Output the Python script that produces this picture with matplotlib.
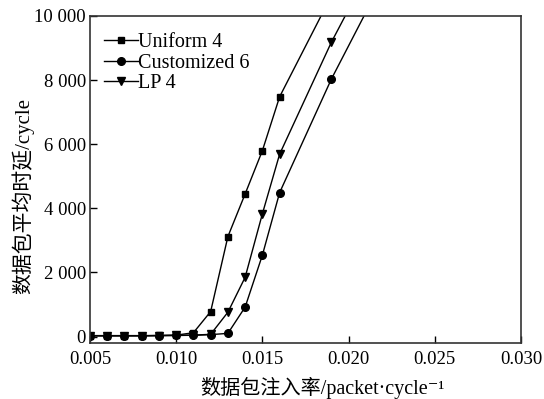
import matplotlib
matplotlib.use("Agg")
import matplotlib.pyplot as plt
from matplotlib.ticker import FuncFormatter

plt.rcParams['font.family'] = ['Liberation Serif', 'DejaVu Serif', 'Noto Sans CJK SC']

x = [0.005, 0.006, 0.007, 0.008, 0.009, 0.010, 0.011, 0.012, 0.013, 0.014, 0.015, 0.016, 0.019, 0.022]
uniform4 = [30, 30, 30, 30, 35, 45, 120, 780, 3120, 4450, 5800, 7480, 10630, 13700]
customized6 = [25, 25, 25, 25, 30, 35, 40, 60, 100, 920, 2540, 4490, 8030, 11150]
lp4 = [25, 25, 25, 25, 30, 35, 45, 70, 760, 1850, 3830, 5690, 9180, 12250]

xticks = [0.005, 0.010, 0.015, 0.020, 0.025, 0.030]
yticks = [0, 2000, 4000, 6000, 8000, 10000]

fig = plt.figure(figsize=(5.44, 3.99), dpi=100)
ax = fig.add_axes([0.1654, 0.1404, 0.7923, 0.8195])

ax.plot(x, uniform4, color='black', lw=1.0, marker='s', ms=5, label='Uniform 4')
ax.plot(x, customized6, color='black', lw=1.0, marker='o', ms=5.5, label='Customized 6')
ax.plot(x, lp4, color='black', lw=1.0, marker='v', ms=6, label='LP 4')

ax.set_xlim(0.005, 0.030)
ax.set_ylim(-200, 10000)
ax.set_xticks(xticks)
ax.set_yticks(yticks)
ax.xaxis.set_major_formatter(FuncFormatter(lambda v, p: f"{v:.3f}"))
ax.yaxis.set_major_formatter(FuncFormatter(lambda v, p: f"{int(round(v)):,}".replace(",", " ")))
ax.tick_params(direction='in', length=5, width=1, labelsize=13.5, colors='black')
ax.tick_params(axis='x', pad=6)
ax.tick_params(axis='y', pad=3)
for s in ax.spines.values():
    s.set_linewidth(1.2)
    s.set_color('#333333')

ax.set_xlabel('数据包注入率/packet·cycle⁻¹', fontsize=14.5)
ax.xaxis.set_label_coords(0.54, -0.105)
ax.set_ylabel('数据包平均时延/cycle', fontsize=15)
ax.yaxis.set_label_coords(-0.13, 0.45)

leg = ax.legend(loc='upper left', frameon=False, fontsize=14.5, handlelength=1.7,
                handletextpad=0.0, borderaxespad=0.3, labelspacing=0.05,
                bbox_to_anchor=(0.0, 0.99))

fig.savefig('out.png', dpi=100)
